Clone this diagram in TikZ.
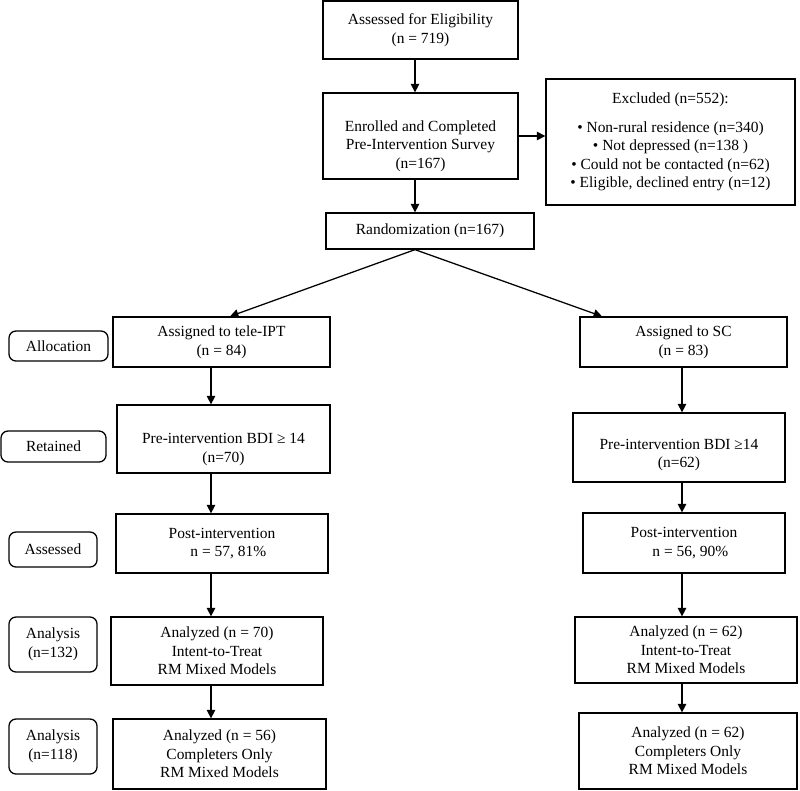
\documentclass[tikz,border=0pt]{standalone}
\usepackage{fontspec}
\setmainfont{Liberation Serif}
\usepackage{tikz}
\usetikzlibrary{arrows.meta}

\newcommand{\sink}[1]{\rule{0pt}{#1}}

\begin{document}
\begin{tikzpicture}[x=0.025cm, y=-0.025cm, font=\fontsize{11}{13.2}\selectfont]
    \tikzstyle{arrow} = [line width=0.9pt,->,>={Triangle[length=6pt,width=6pt]}]
    \tikzstyle{box} = [rectangle, line width=0.9pt, draw=black, inner sep=0pt, align=center]
    \tikzstyle{phase} = [rectangle, rounded corners=5pt, line width=0.9pt, draw=black, inner sep=0pt, align=center]
    \useasboundingbox (0,0) rectangle (800,790);
    \node (assess) [box, minimum width=4.875cm, minimum height=1.45cm] at (420.5,30) {Assessed for Eligibility\\(n = 719)};
    \node (enrol) [box, minimum width=4.875cm, minimum height=2.15cm] at (420.5,136) {\sink{22pt}Enrolled and Completed\\Pre-Intervention Survey\\(n=167)};
    \node (excl) [box, minimum width=6.225cm, minimum height=3.15cm] at (670.5,142) {Excluded (n=552):\\[7pt]
        \textbullet{} Non-rural residence (n=340)\\
        \textbullet{} Not depressed (n=138 )\\
        \textbullet{} Could not be contacted (n=62)\\
        \textbullet{} Eligible, declined entry (n=12)};
    \node (rand) [box, minimum width=5.2cm, minimum height=0.9cm] at (430,231) {Randomization (n=167)};
    \node (ipt) [box, minimum width=5.425cm, minimum height=1.25cm] at (221.5,342) {Assigned to tele-IPT\\(n = 84)};
    \node (sc) [box, minimum width=5.175cm, minimum height=1.25cm] at (683.5,342) {Assigned to SC\\(n = 83)};
    \node (bdiA) [box, minimum width=5.325cm, minimum height=1.7cm] at (223.5,439) {\sink{22pt}Pre-intervention BDI ≥ 14\\(n=70)};
    \node (bdiB) [box, minimum width=5.3cm, minimum height=1.725cm] at (679,447.5) {\sink{18pt}Pre-intervention BDI ≥14\\(n=62)};
    \node (postA) [box, minimum width=5.3cm, minimum height=1.475cm] at (222,543.5) {Post-intervention\\\hspace*{9pt}n = 57, 81\%};
    \node (postB) [box, minimum width=5.05cm, minimum height=1.5cm] at (684,543) {Post-intervention\\\hspace*{9pt}n = 56, 90\%};
    \node (ittA) [box, minimum width=5.3cm, minimum height=1.7cm] at (217,651) {Analyzed (n = 70)\\Intent-to-Treat\\RM Mixed Models};
    \node (ittB) [box, minimum width=5.55cm, minimum height=1.65cm] at (686,650) {Analyzed (n = 62)\\Intent-to-Treat\\RM Mixed Models};
    \node (compA) [box, minimum width=5.325cm, minimum height=1.75cm] at (219.5,754) {Analyzed (n = 56)\\Completers Only\\RM Mixed Models};
    \node (compB) [box, minimum width=5.45cm, minimum height=1.9cm] at (688,751) {Analyzed (n = 62)\\Completers Only\\RM Mixed Models};
    \node (alloc) [phase, minimum width=2.475cm, minimum height=0.75cm] at (58.5,346) {Allocation};
    \node (retain) [phase, minimum width=2.625cm, minimum height=0.775cm] at (53.5,446.5) {Retained};
    \node (assessd) [phase, minimum width=2.2cm, minimum height=0.875cm] at (53,549.5) {Assessed};
    \node (anITT) [phase, minimum width=2.2cm, minimum height=1.375cm] at (53,644.5) {Analysis\\(n=132)};
    \node (anComp) [phase, minimum width=2.2cm, minimum height=1.375cm] at (53,746.5) {Analysis\\(n=118)};
    \coordinate (midcol) at (415,0);
    \coordinate (lcol) at (211,0);
    \coordinate (rcol) at (682,0);
    \coordinate (hitL) at (230,0);
    \coordinate (hitR) at (602,0);
    \draw [arrow] (assess.south -| midcol) -- (enrol.north -| midcol);
    \draw [arrow] (enrol.south -| midcol) -- (rand.north -| midcol);
    \draw [arrow] (enrol.east) -- (enrol.east -| excl.west);
    \draw [arrow] (rand.south -| midcol) -- (ipt.north -| hitL);
    \draw [arrow] (rand.south -| midcol) -- (sc.north -| hitR);
    \draw [arrow] (ipt.south -| lcol) -- (bdiA.north -| lcol);
    \draw [arrow] (bdiA.south -| lcol) -- (postA.north -| lcol);
    \draw [arrow] (postA.south -| lcol) -- (ittA.north -| lcol);
    \draw [arrow] (ittA.south -| lcol) -- (compA.north -| lcol);
    \draw [arrow] (sc.south -| rcol) -- (bdiB.north -| rcol);
    \draw [arrow] (bdiB.south -| rcol) -- (postB.north -| rcol);
    \draw [arrow] (postB.south -| rcol) -- (ittB.north -| rcol);
    \draw [arrow] (ittB.south -| rcol) -- (compB.north -| rcol);
\end{tikzpicture}
\end{document}
